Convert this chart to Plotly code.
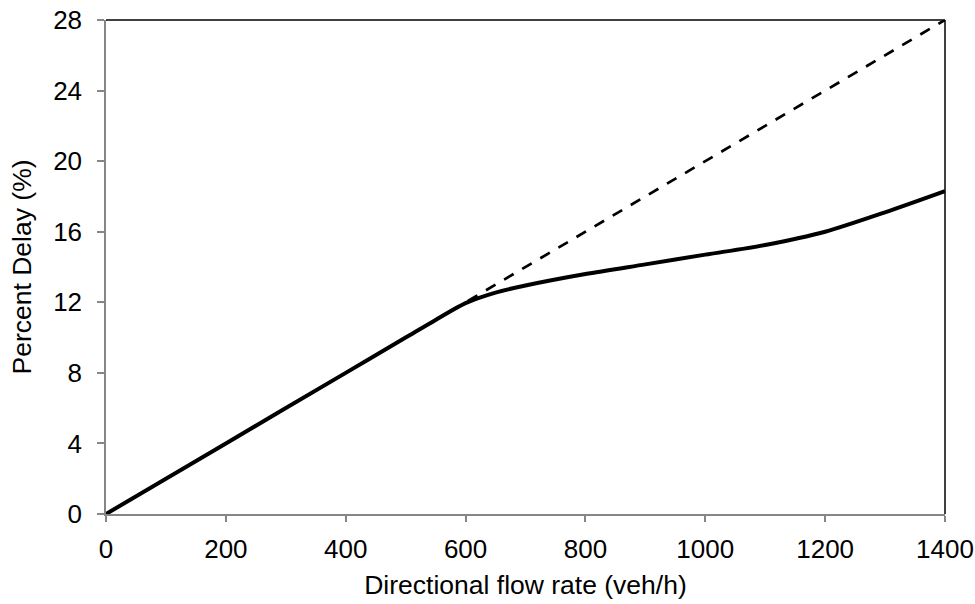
import plotly.graph_objects as go

# Data
flow = [0, 200, 400, 500, 550, 600, 650, 700, 800, 900, 1000, 1100, 1200, 1300, 1400]
delay = [0, 4.0, 8.0, 10.0, 11.0, 11.95, 12.55, 12.95, 13.6, 14.15, 14.7, 15.25, 16.0, 17.1, 18.3]

ref_flow = [0, 1400]
ref_delay = [0, 28]

x_ticks = [0, 200, 400, 600, 800, 1000, 1200, 1400]
y_ticks = [0, 4, 8, 12, 16, 20, 24, 28]

FONT = "Liberation Sans, Arial, sans-serif"
GREY = "#868686"

fig = go.Figure()
fig.add_trace(go.Scatter(x=ref_flow, y=ref_delay, mode="lines",
                         line=dict(color="black", width=2.7, dash="11px,10px"),
                         showlegend=False, hoverinfo="skip"))
fig.add_trace(go.Scatter(x=flow, y=delay, mode="lines",
                         line=dict(color="black", width=4, shape="spline", smoothing=0.8),
                         showlegend=False))

fig.update_layout(
    width=975, height=604,
    margin=dict(l=106, r=30, t=20, b=90, autoexpand=False),
    paper_bgcolor="white", plot_bgcolor="white",
    font=dict(family=FONT, size=22, color="black"),
    xaxis=dict(range=[0, 1400], tickvals=x_ticks, showgrid=False, zeroline=False,
               automargin=False, ticklabeloverflow="allow",
               showline=True, linecolor=GREY, linewidth=1.5,
               ticks="outside", ticklen=6, tickcolor=GREY, tickwidth=1.5,
               ticklabelstandoff=5,
               title=dict(text="Directional flow rate (veh/h)", standoff=12,
                          font=dict(size=26.5)),
               tickfont=dict(size=26)),
    yaxis=dict(range=[0, 28], tickvals=y_ticks, showgrid=False, zeroline=False,
               automargin=False, ticklabeloverflow="allow",
               showline=True, linecolor=GREY, linewidth=1.5,
               ticks="outside", ticklen=7, tickcolor=GREY, tickwidth=1.5,
               ticklabelstandoff=10,
               title=dict(text="Percent Delay (%)", standoff=14,
                          font=dict(size=26.5)),
               tickfont=dict(size=26)),
    shapes=[
        dict(type="line", xref="paper", yref="paper", x0=0, x1=1, y0=1, y1=1,
             line=dict(color="black", width=1.5)),
        dict(type="line", xref="paper", yref="paper", x0=1, x1=1, y0=0, y1=1,
             line=dict(color="black", width=1.5)),
    ],
)

fig.write_html("out.html", config={"displayModeBar": False},
               post_script="document.body.style.margin='0';")
